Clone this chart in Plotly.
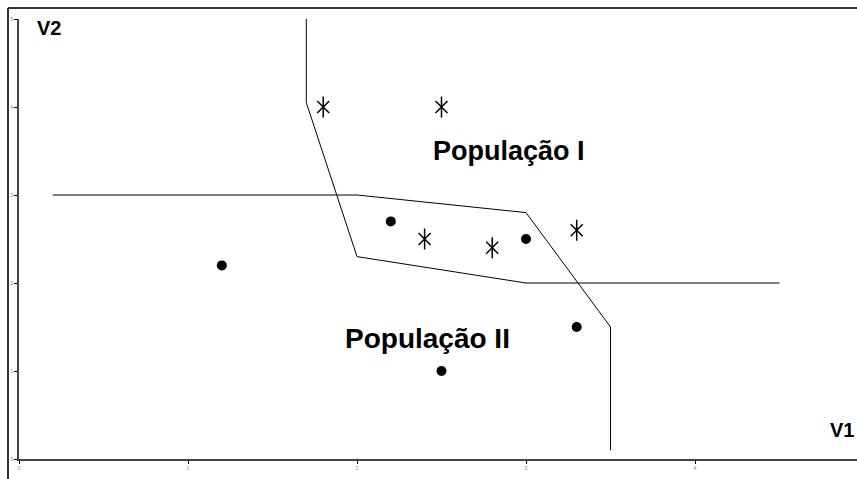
import plotly.graph_objects as go

# Data
pop1_x = [1.8, 2.5, 2.4, 2.8, 3.3]
pop1_y = [4.0, 4.0, 2.5, 2.4, 2.6]
pop2_x = [1.2, 2.2, 3.0, 3.3, 2.5]
pop2_y = [2.2, 2.7, 2.5, 1.5, 1.0]

boundA_x = [1.7, 1.7, 2.0, 3.0, 4.5]
boundA_y = [5.0, 4.05, 2.3, 2.0, 2.0]
boundB_x = [0.2, 2.0, 3.0, 3.5, 3.5]
boundB_y = [3.0, 3.0, 2.8, 1.5, 0.1]

tick_vals = [0, 1, 2, 3, 4, 5]
tick_text = ["0", "1", "2", "3", "4", "5"]

fig = go.Figure()
line_style = dict(color="black", width=1)
fig.add_trace(go.Scatter(x=boundA_x, y=boundA_y, mode="lines", line=line_style, hoverinfo="skip"))
fig.add_trace(go.Scatter(x=boundB_x, y=boundB_y, mode="lines", line=line_style, hoverinfo="skip"))

fig.add_trace(go.Scatter(x=pop1_x, y=pop1_y, mode="markers",
                         marker=dict(symbol="x-thin-open", size=12, color="black",
                                     line=dict(color="black", width=1.5))))
fig.add_trace(go.Scatter(x=pop1_x, y=pop1_y, mode="markers",
                         marker=dict(symbol="line-ns-open", size=15, color="black",
                                     line=dict(color="black", width=1.5))))
fig.add_trace(go.Scatter(x=pop2_x, y=pop2_y, mode="markers",
                         marker=dict(symbol="circle", size=10, color="black")))

font_family = "Liberation Sans, Arial"
fig.add_annotation(x=2.9, y=3.5, text="<b>População I</b>", showarrow=False,
                   font=dict(family=font_family, size=27, color="black"))
fig.add_annotation(x=2.42, y=1.37, text="<b>População II</b>", showarrow=False,
                   font=dict(family=font_family, size=28, color="black"))
fig.add_annotation(x=0.18, y=4.9, text="<b>V2</b>", showarrow=False,
                   font=dict(family=font_family, size=20, color="black"))
fig.add_annotation(x=4.87, y=0.33, text="<b>V1</b>", showarrow=False,
                   font=dict(family=font_family, size=20, color="black"))

# outer frame (top and left)
fig.add_shape(type="line", xref="paper", yref="paper", x0=-11/838, x1=1, y0=1 + 11/440, y1=1 + 11/440,
              line=dict(color="#333333", width=2))
fig.add_shape(type="line", xref="paper", yref="paper", x0=-11/838, x1=-11/838, y0=1 + 11/440, y1=-0.05,
              line=dict(color="#333333", width=2))

axis_common = dict(showgrid=False, zeroline=False, showline=True, linecolor="#444444", linewidth=1.5,
                   ticks="outside", ticklen=3, tickcolor="black", tickwidth=1,
                   tickfont=dict(size=5, color="#888888", family=font_family),
                   tickvals=tick_vals, ticktext=tick_text, fixedrange=True)

fig.update_layout(
    width=857, height=479,
    margin=dict(l=19, r=0, t=19, b=20),
    plot_bgcolor="white", paper_bgcolor="white",
    showlegend=False,
    xaxis=dict(range=[0, 838/169], **axis_common),
    yaxis=dict(range=[0, 5], **axis_common),
)

fig.write_html("out.html", config={"displayModeBar": False},
               post_script="document.body.style.margin='0';document.body.style.overflow='hidden';")
